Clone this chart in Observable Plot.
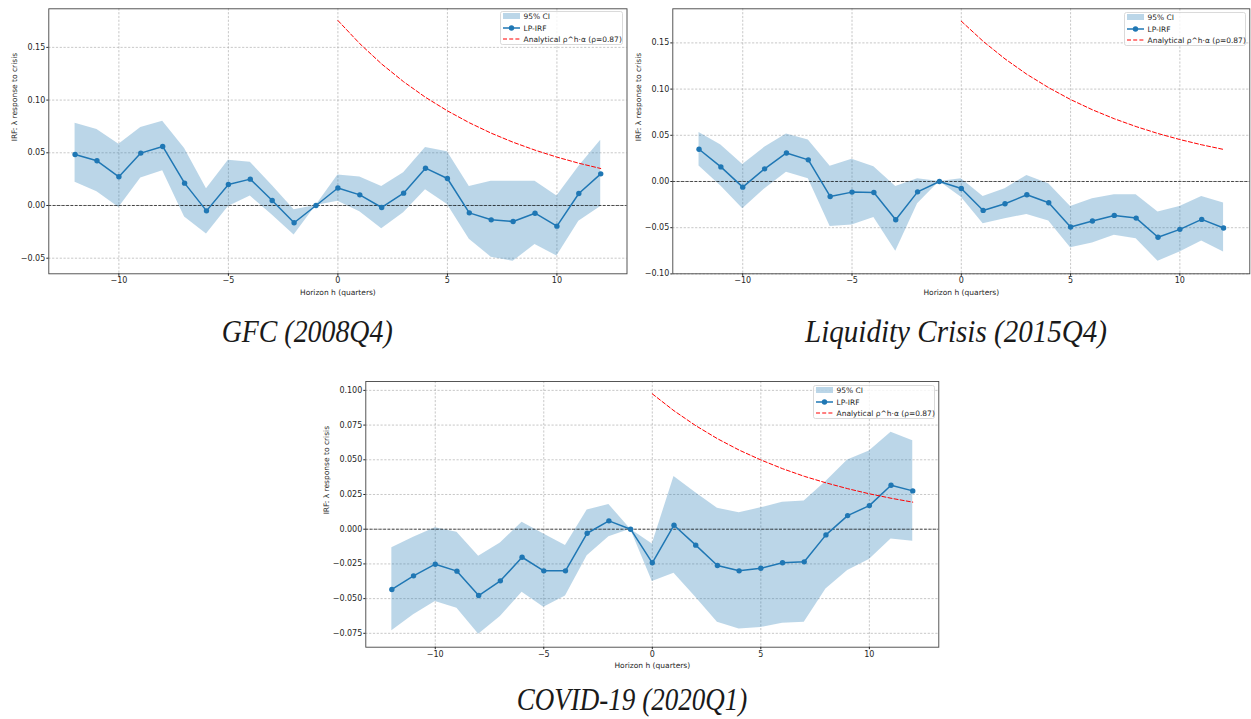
<!DOCTYPE html>
<html>
<head>
<meta charset="utf-8">
<script src="https://cdn.jsdelivr.net/npm/d3@7"></script>
<script src="https://cdn.jsdelivr.net/npm/@observablehq/plot@0.6"></script>
<style>
  html, body { margin: 0; padding: 0; background: #fff; }
  body { width: 1251px; height: 719px; position: relative; overflow: hidden; font-family: "DejaVu Sans", sans-serif; }
  .panel { position: absolute; }
  .ov { position: absolute; overflow: visible; }
</style>
</head>
<body>
<script>
// ---------- data ----------
const horizons = [-12,-11,-10,-9,-8,-7,-6,-5,-4,-3,-2,-1,0,1,2,3,4,5,6,7,8,9,10,11,12];
const analyticH = [0,1,2,3,4,5,6,7,8,9,10,11,12];
const xTicks = [-10, -5, 0, 5, 10];

const titles = ["GFC (2008Q4)", "Liquidity Crisis (2015Q4)", "COVID-19 (2020Q1)"];
const legendLabels = ["95% CI", "LP-IRF", "Analytical ρ^h·α (ρ=0.87)"];
const xLabel = "Horizon h (quarters)";
const yLabel = "IRF: λ response to crisis";

// GFC (2008Q4)
const gfcIRF = [0.0484, 0.0424, 0.0272, 0.0497, 0.0560, 0.0212, -0.0051, 0.0199, 0.0250, 0.0047, -0.0164, 0.0000, 0.0166, 0.0101, -0.0019, 0.0117, 0.0354, 0.0256, -0.0070, -0.0136, -0.0152, -0.0073, -0.0196, 0.0114, 0.0300];
const gfcHi  = [0.078, 0.072, 0.058, 0.074, 0.080, 0.054, 0.016, 0.043, 0.041, 0.019, -0.004, 0.000, 0.029, 0.027, 0.018, 0.031, 0.055, 0.051, 0.018, 0.023, 0.023, 0.023, 0.009, 0.037, 0.062];
const gfcLo  = [0.022, 0.013, -0.002, 0.026, 0.033, -0.011, -0.027, -0.001, 0.009, -0.009, -0.028, 0.000, 0.004, -0.006, -0.022, -0.007, 0.015, 0.001, -0.032, -0.049, -0.053, -0.037, -0.048, -0.015, -0.001];
const gfcAnalytic = [0.1755, 0.1535, 0.1342, 0.1174, 0.1026, 0.0898, 0.0785, 0.0686, 0.0600, 0.0525, 0.0459, 0.0401, 0.0351];

// Liquidity Crisis (2015Q4)
const lcIRF = [0.0349, 0.0158, -0.0061, 0.0137, 0.0309, 0.0234, -0.0162, -0.0115, -0.0119, -0.0414, -0.0112, 0.0000, -0.0076, -0.0313, -0.0241, -0.0144, -0.0230, -0.0493, -0.0428, -0.0367, -0.0396, -0.0604, -0.0518, -0.0410, -0.0504];
const lcHi  = [0.0529, 0.0396, 0.0183, 0.0370, 0.0514, 0.0450, 0.0165, 0.0240, 0.0160, -0.0054, 0.0030, 0.0000, 0.0030, -0.0162, -0.0079, 0.0065, -0.0025, -0.0270, -0.0187, -0.0144, -0.0144, -0.0331, -0.0270, -0.0162, -0.0234];
const lcLo  = [0.0169, -0.0050, -0.0295, -0.0080, 0.0100, 0.0030, -0.0486, -0.0470, -0.0390, -0.0755, -0.0240, 0.0000, -0.0170, -0.0457, -0.0403, -0.0356, -0.0428, -0.0716, -0.0665, -0.0583, -0.0619, -0.0863, -0.0763, -0.0644, -0.0763];
const lcAnalytic = [0.1735, 0.1517, 0.1327, 0.1160, 0.1015, 0.0887, 0.0776, 0.0679, 0.0594, 0.0519, 0.0454, 0.0397, 0.0347];

// COVID-19 (2020Q1)
const covIRF = [-0.0434, -0.0336, -0.0252, -0.0302, -0.0478, -0.0372, -0.0202, -0.0300, -0.0300, -0.0029, 0.0060, 0.0000, -0.0242, 0.0029, -0.0115, -0.0262, -0.0300, -0.0281, -0.0242, -0.0235, -0.0041, 0.0098, 0.0170, 0.0317, 0.0276];
const covHi  = [-0.0134, -0.0058, 0.0010, -0.0022, -0.0194, -0.0100, 0.0050, -0.0034, -0.0118, 0.0139, 0.0178, 0.0000, -0.0106, 0.0379, 0.0262, 0.0151, 0.0118, 0.0154, 0.0194, 0.0204, 0.0343, 0.0499, 0.0564, 0.0698, 0.0638];
const covLo  = [-0.0732, -0.0617, -0.0520, -0.0569, -0.0756, -0.0629, -0.0454, -0.0562, -0.0482, -0.0192, -0.0055, 0.0000, -0.0377, -0.0317, -0.0490, -0.0670, -0.0718, -0.0708, -0.0677, -0.0670, -0.0430, -0.0298, -0.0218, -0.0070, -0.0086];
const covAnalytic = [0.0975, 0.0853, 0.0746, 0.0652, 0.0570, 0.0499, 0.0436, 0.0381, 0.0334, 0.0292, 0.0255, 0.0223, 0.0195];

const ticks12 = [-0.05, 0.00, 0.05, 0.10, 0.15];
const ticks2  = [-0.10, -0.05, 0.00, 0.05, 0.10, 0.15];
const ticks3  = [-0.075, -0.050, -0.025, 0.000, 0.025, 0.050, 0.075, 0.100];

// ---------- drawing ----------
const BLUE = "#1f77b4";
const RED_DASH = "4,2.2";
function makeRows(irf, lo, hi) { return horizons.map((h, i) => ({h, irf: irf[i], lo: lo[i], hi: hi[i]})); }
function makeAn(v) { return analyticH.map((h, i) => ({h, v: v[i]})); }

function panel(cfg) {
  const rows = makeRows(cfg.irf, cfg.lo, cfg.hi);
  const an = makeAn(cfg.an);
  const grid = {stroke: "#b0b0b0", strokeOpacity: 1, strokeWidth: 0.7, strokeDasharray: "2.2,1.6"};
  const svg = Plot.plot({
    width: cfg.w, height: cfg.h,
    marginLeft: cfg.ml, marginRight: cfg.mr, marginTop: cfg.mt, marginBottom: cfg.mb,
    x: {domain: [-13.2, 13.2]},
    y: {domain: cfg.yDomain},
    style: {fontFamily: "DejaVu Sans, sans-serif", fontSize: "8px", color: "#262626", background: "transparent"},
    marks: [
      Plot.gridX(xTicks, grid),
      Plot.gridY(cfg.yTicks, grid),
      Plot.areaY(rows, {x: "h", y1: "lo", y2: "hi", fill: BLUE, fillOpacity: 0.3, curve: "linear"}),
      Plot.ruleY([0], {stroke: "#000", strokeOpacity: 0.75, strokeWidth: 0.9, strokeDasharray: "3,1.4"}),
      Plot.line(rows, {x: "h", y: "irf", stroke: BLUE, strokeWidth: 1.5}),
      Plot.dot(rows, {x: "h", y: "irf", fill: BLUE, r: 2.7}),
      Plot.line(an, {x: "h", y: "v", stroke: "red", strokeWidth: 1, strokeDasharray: RED_DASH}),
      Plot.frame({stroke: "#444", strokeWidth: 0.9}),
      Plot.axisX(xTicks, {tickSize: 2.5, tickPadding: 1.5, tickFormat: d3.format("d"), label: null, fontSize: 8}),
      Plot.axisY(cfg.yTicks, {tickSize: 2, tickPadding: 1.5, tickFormat: d3.format(cfg.fmt), label: null, fontSize: 8}),
      Plot.text([xLabel], {frameAnchor: "bottom", dy: 18.5, text: d => d, fontSize: 7.5, lineAnchor: "middle", fill: "#262626"}),
      Plot.text([yLabel], {frameAnchor: "left", dx: cfg.ydx, rotate: -90, text: d => d, fontSize: 7.5, lineAnchor: "middle", fill: "#262626"})
    ]
  });
  const div = document.createElement("div");
  div.className = "panel";
  div.style.left = cfg.left + "px";
  div.style.top = cfg.top + "px";
  div.appendChild(svg);
  document.body.appendChild(div);
}

function legend(left, top, w) {
  const ns = "http://www.w3.org/2000/svg";
  const svg = document.createElementNS(ns, "svg");
  svg.setAttribute("class", "ov");
  svg.setAttribute("width", w);
  svg.setAttribute("height", 34);
  svg.style.left = left + "px";
  svg.style.top = top + "px";
  const rowsY = [5, 17, 28];
  svg.innerHTML = `
    <rect x="0.5" y="0.5" width="${w - 1}" height="33" rx="2" fill="#fff" fill-opacity="0.8" stroke="#d0d0d0" stroke-width="0.8"/>
    <rect x="3" y="${rowsY[0] - 3}" width="17" height="6" fill="${BLUE}" fill-opacity="0.3"/>
    <line x1="3" x2="20" y1="${rowsY[1]}" y2="${rowsY[1]}" stroke="${BLUE}" stroke-width="1.5"/>
    <circle cx="11.5" cy="${rowsY[1]}" r="2.7" fill="${BLUE}"/>
    <line x1="3" x2="20" y1="${rowsY[2]}" y2="${rowsY[2]}" stroke="red" stroke-width="1" stroke-dasharray="${RED_DASH}"/>
  ` + legendLabels.map((t, i) => `<text x="23.5" y="${rowsY[i]}" dy="0.35em" font-size="7.5" font-family="DejaVu Sans, sans-serif" fill="#262626">${t}</text>`).join("");
  document.body.appendChild(svg);
}

function title(text, x1, x2, baseline) {
  const ns = "http://www.w3.org/2000/svg";
  const svg = document.createElementNS(ns, "svg");
  svg.setAttribute("class", "ov");
  svg.setAttribute("width", 1251);
  svg.setAttribute("height", 719);
  svg.style.left = "0px";
  svg.style.top = "0px";
  svg.style.pointerEvents = "none";
  const t = document.createElementNS(ns, "text");
  t.setAttribute("x", x1);
  t.setAttribute("y", baseline);
  t.setAttribute("textLength", x2 - x1);
  t.setAttribute("lengthAdjust", "spacingAndGlyphs");
  t.setAttribute("font-family", "Liberation Serif, serif");
  t.setAttribute("font-style", "italic");
  t.setAttribute("font-size", "32");
  t.setAttribute("fill", "#1a1a1a");
  t.textContent = text;
  svg.appendChild(t);
  document.body.appendChild(svg);
}

panel({left: 0, top: 0, w: 640, h: 300, ml: 48.3, mr: 13.5, mt: 8.3, mb: 26.7,
  yDomain: [-0.0648, 0.1866], yTicks: ticks12, fmt: ".2f", ydx: -34,
  irf: gfcIRF, lo: gfcLo, hi: gfcHi, an: gfcAnalytic});
panel({left: 630, top: 0, w: 621, h: 300, ml: 42.3, mr: 1.7, mt: 8.3, mb: 26.7,
  yDomain: [-0.0999, 0.1869], yTicks: ticks2, fmt: ".2f", ydx: -34,
  irf: lcIRF, lo: lcLo, hi: lcHi, an: lcAnalytic});
panel({left: 310, top: 375, w: 640, h: 300, ml: 55.3, mr: 11.7, mt: 6, mb: 28.3,
  yDomain: [-0.085, 0.1064], yTicks: ticks3, fmt: ".3f", ydx: -39,
  irf: covIRF, lo: covLo, hi: covHi, an: covAnalytic});

legend(500, 11.3, 123);
legend(1124, 12, 122);
legend(812.7, 385, 122);

title(titles[0], 221.7, 392.7, 341.5);
title(titles[1], 805, 1107, 341.5);
title(titles[2], 516.7, 747.3, 710);
</script>
</body>
</html>
